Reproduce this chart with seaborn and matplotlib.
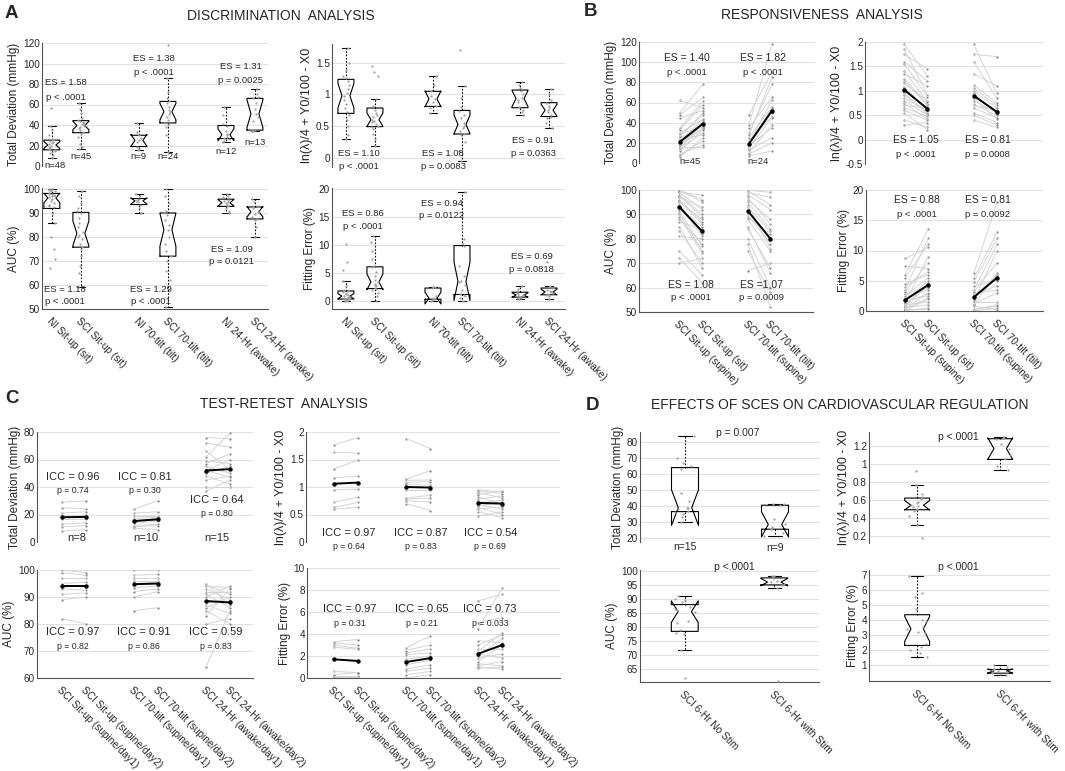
import numpy as np
import pandas as pd
import seaborn as sns
import matplotlib.pyplot as plt
from matplotlib.ticker import FuncFormatter

# ================= labels =================
A_LABELS = ["NI Sit-up (sit)", "SCI Sit-up (sit)", "NI 70-tilt (tilt)",
            "SCI 70-tilt (tilt)", "NI 24-Hr (awake)", "SCI 24-Hr (awake)"]
B_LABELS = ["SCI Sit-up (supine)", "SCI Sit-up (sit)",
            "SCI 70-tilt (supine)", "SCI 70-tilt (tilt)"]
C_LABELS = ["SCI Sit-up (supine/day1)", "SCI Sit-up (supine/day2)",
            "SCI 70-tilt (supine/day1)", "SCI 70-tilt (supine/day2)",
            "SCI 24-Hr (awake/day1)", "SCI 24-Hr (awake/day2)"]
D_LABELS = ["SCI 6-Hr No Stim", "SCI 6-Hr with Stim"]

# ================= A: discrimination (one list per group) =================
A_TD = [
    [8, 11, 13, 14, 15, 16, 17, 18, 19, 20, 21, 22, 23, 24, 25, 26, 30, 35, 39, 57],
    [17, 19, 21, 28, 31, 33, 35, 37, 38, 39, 40, 41, 42, 43, 44, 45, 47, 52, 56, 61],
    [16, 17, 19, 23, 25, 27, 30, 33, 42],
    [14, 30, 38, 40, 42, 45, 48, 51, 53, 55, 58, 61, 63, 66, 72, 86, 118],
    [23, 24, 26, 27, 28, 30, 31, 34, 39, 41, 50, 58],
    [34, 34, 35, 35, 44, 48, 51, 56, 61, 66, 67, 70, 75],
]
A_LN = [
    [0.30, 0.35, 0.50, 0.60, 0.68, 0.72, 0.78, 0.85, 0.92, 0.98, 1.02, 1.08, 1.15, 1.22, 1.26, 1.30, 1.38, 1.50, 1.73],
    [0.19, 0.30, 0.38, 0.45, 0.48, 0.50, 0.53, 0.56, 0.58, 0.60, 0.64, 0.68, 0.71, 0.75, 0.82, 0.93, 1.30, 1.36, 1.45],
    [0.70, 0.78, 0.81, 0.88, 0.93, 0.98, 1.05, 1.15, 1.30],
    [-0.05, 0.10, 0.25, 0.35, 0.38, 0.42, 0.47, 0.50, 0.55, 0.62, 0.68, 0.73, 0.80, 0.95, 1.13, 1.70],
    [0.67, 0.72, 0.76, 0.80, 0.88, 0.92, 0.95, 1.00, 1.06, 1.10, 1.15, 1.20],
    [0.47, 0.55, 0.62, 0.65, 0.68, 0.72, 0.75, 0.78, 0.82, 0.87, 0.92, 1.00, 1.09],
]
A_AUC = [
    [67, 71, 75, 80, 86, 90, 92.5, 93, 93.5, 94, 95, 96, 96.5, 97, 97, 97.5, 98, 98, 98.5, 99, 99, 99.5, 100, 100],
    [59, 65, 68, 72, 75, 76, 77, 79, 80, 81, 82, 84, 86, 88, 90, 91, 92, 94, 97, 99],
    [90, 92, 93.5, 94.5, 95, 95.5, 96, 97, 98],
    [51, 62, 66, 70, 72, 74, 77, 80, 83, 85, 87, 89, 90, 91, 94, 97, 100],
    [90, 91, 92, 93, 93.5, 94, 94.5, 95, 95.5, 96.5, 97, 98],
    [80, 84, 87, 87.5, 88.5, 89.5, 90.5, 91, 92, 92.5, 93, 94.5, 96],
]
A_FE = [
    [0, 0, 0.1, 0.1, 0.2, 0.3, 0.35, 0.4, 0.5, 0.6, 0.7, 0.8, 0.9, 1.0, 1.2, 1.4, 1.6, 1.7, 2.0, 2.6, 3.6, 5.5, 7.0, 10.2],
    [0, 0.8, 1.5, 2.0, 2.1, 2.3, 2.6, 2.9, 3.1, 3.4, 3.8, 4.5, 5.2, 6.0, 6.2, 7.5, 9.0, 10.5, 11.6],
    [0, 0.1, 0.3, 0.4, 0.5, 0.8, 2.3, 2.4, 2.5],
    [0, 0.5, 0.9, 1.0, 1.2, 2.0, 2.8, 3.4, 3.6, 4.5, 6.2, 9.8, 10.2, 11, 13, 19.5],
    [0.3, 0.5, 0.6, 0.7, 0.9, 1.0, 1.1, 1.3, 1.5, 1.7, 2.1, 2.6],
    [0.4, 0.8, 1.0, 1.1, 1.3, 1.5, 1.6, 1.8, 2.0, 2.3, 2.5, 2.6, 7.0],
]

# ================= B: responsiveness (pre, post per subject) =================
B_TD = [
    ([6, 9, 12, 15, 18, 19, 20, 21, 24, 27, 30, 35, 45, 50, 62, 8, 14, 16, 17, 20, 23, 26, 29, 33, 48],
     [25, 18, 33, 30, 39, 35, 37, 41, 39, 48, 43, 61, 52, 78, 55, 22, 40, 16, 34, 44, 28, 50, 36, 58, 65]),
    ([7, 10, 13, 15, 18, 19, 19, 20, 25, 30, 38, 48, 9, 14, 17, 22, 28, 35],
     [12, 38, 25, 45, 50, 53, 51, 62, 56, 78, 118, 90, 20, 55, 35, 46, 85, 65]),
]
B_LN = [
    ([0.30, 0.55, 0.65, 0.75, 0.85, 0.92, 0.98, 1.02, 1.08, 1.15, 1.25, 1.35, 1.55, 1.75, 1.95,
      0.40, 0.60, 0.70, 0.80, 0.95, 1.05, 1.20, 1.40, 1.60, 1.85],
     [0.35, 0.20, 0.48, 0.42, 0.58, 0.52, 0.66, 0.63, 0.60, 0.80, 0.72, 1.10, 0.88, 1.45, 1.30,
      0.25, 0.40, 0.65, 0.50, 0.55, 0.62, 0.70, 0.78, 1.20, 0.92]),
    ([0.40, 0.55, 0.65, 0.72, 0.80, 0.88, 0.92, 1.00, 1.12, 1.35, 1.75, 1.95, 0.50, 0.70, 0.85, 0.95, 1.05, 1.60],
     [0.25, 0.35, 0.45, 0.50, 0.55, 0.56, 0.58, 0.65, 0.75, 1.10, 1.70, 0.95, 0.30, 0.60, 0.42, 0.52, 0.70, 0.85]),
]
B_AUC = [
    ([70, 72, 81, 85, 88, 90, 92, 93, 94, 95, 96, 97, 98, 99, 100, 75, 83, 87, 89, 91, 93.5, 95.5, 97.5, 99, 100],
     [72, 62, 80, 68, 78, 75, 85, 83, 82, 88, 87, 93, 90, 98, 96, 65, 70, 84, 74, 77, 81, 86, 89, 92, 95]),
    ([67, 78, 80, 85, 88, 90, 93, 95, 96, 98, 99, 100, 75, 84, 89, 94, 97, 99.5],
     [70, 52, 60, 66, 75, 78, 83, 84, 88, 92, 97, 99, 58, 68, 82, 76, 86, 94]),
]
B_FE = [
    ([0.0, 0.2, 0.4, 0.7, 1.0, 1.3, 1.6, 1.8, 2.2, 2.8, 3.5, 4.5, 6.0, 7.5, 8.7,
      0.1, 0.3, 0.6, 0.9, 1.4, 2.0, 2.5, 3.2, 4.0, 5.5],
     [2.0, 0.3, 3.0, 4.3, 1.5, 9.0, 2.5, 5.0, 3.5, 4.0, 12.0, 6.0, 13.5, 7.0, 10.5,
      0.5, 2.2, 1.0, 4.6, 2.8, 3.8, 5.5, 8.0, 6.5, 11.0]),
    ([0.0, 0.3, 0.8, 1.2, 1.8, 2.1, 2.5, 2.9, 3.5, 4.2, 5.5, 6.3, 0.2, 1.0, 1.5, 2.7, 3.2, 4.8],
     [0.5, 1.0, 0.2, 3.0, 10.0, 6.0, 6.0, 3.5, 11.0, 5.0, 13.0, 18.0, 0.8, 6.3, 1.5, 4.2, 8.0, 12.0]),
]

# ================= C: test-retest (day1, day2 per subject) =================
C_TD = [
    ([8, 11, 13, 17, 19, 21, 25, 29], [9, 12, 14, 17, 19.5, 22, 24, 30]),
    ([10, 11, 12, 14, 15, 15.5, 17, 19, 21, 24], [9, 12, 13, 15, 16, 17, 18, 19, 22, 30]),
    ([37, 40, 45, 48, 50, 51, 52, 52, 55, 57, 59, 62, 66, 72, 76],
     [45, 40, 48, 42, 55, 53, 47, 60, 50, 64, 57, 79, 53, 69, 75]),
]
C_LN = [
    ([0.60, 0.63, 0.72, 0.95, 1.17, 1.33, 1.63, 1.77], [0.63, 0.72, 0.82, 0.96, 1.20, 1.49, 1.62, 1.90]),
    ([0.70, 0.75, 0.78, 0.80, 0.95, 1.05, 1.08, 1.12, 1.14, 1.88],
     [0.57, 0.73, 0.80, 0.85, 0.95, 1.03, 1.10, 1.13, 1.30, 1.70]),
    ([0.47, 0.55, 0.60, 0.63, 0.66, 0.68, 0.70, 0.71, 0.74, 0.78, 0.82, 0.86, 0.90, 0.93, 0.95],
     [0.55, 0.44, 0.64, 0.50, 0.72, 0.60, 0.69, 0.76, 0.67, 0.84, 0.70, 0.93, 0.80, 0.88, 0.91]),
]
C_AUC = [
    ([82, 89, 91, 93, 95, 97, 99, 100], [80, 90, 91.5, 92.5, 95.5, 97, 98, 99]),
    ([85, 90, 92, 93.5, 94.5, 95, 96, 97, 98, 100], [86, 92, 93, 94, 94.8, 95.2, 96, 97, 98.5, 100]),
    ([64, 80, 83, 85, 86, 87, 88, 88.5, 90, 91, 92, 93, 94, 94.5, 95],
     [85, 82, 93, 80, 90, 84, 88, 87.5, 94, 86, 92, 89, 93.5, 91, 87]),
]
C_FE = [
    ([0.1, 0.2, 0.3, 0.6, 2.8, 3.0, 3.2, 3.3], [0.1, 0.2, 0.5, 0.5, 2.6, 2.7, 3.0, 3.5]),
    ([0, 0.3, 0.6, 0.8, 1.2, 1.7, 2.1, 2.3, 2.5, 2.7], [0.3, 0.6, 0.9, 1.2, 1.6, 2.0, 2.3, 2.6, 3.0, 3.8]),
    ([0.9, 1.0, 1.1, 1.3, 1.5, 1.8, 2.0, 2.2, 2.4, 2.6, 3.0, 3.4, 4.5, 5.0, 7.0],
     [1.0, 0.8, 1.5, 1.1, 3.0, 2.2, 3.6, 1.8, 4.1, 2.6, 3.9, 3.2, 8.2, 5.5, 7.6]),
]

# ================= D: stimulation effects =================
D_TD = [[30, 33, 35, 36, 37, 38, 38.5, 39, 43, 48, 63, 65, 67, 70, 84],
        [21, 23, 25.5, 27, 28.5, 32, 40.5, 41, 41]]
D_LN = [[0.18, 0.32, 0.42, 0.48, 0.50, 0.52, 0.53, 0.54, 0.56, 0.58, 0.61, 0.63, 0.67, 0.77, 0.92],
        [0.93, 0.98, 1.05, 1.10, 1.17, 1.22, 1.28, 1.29, 1.30]]
D_AUC = [[62, 72, 77.5, 78, 79, 81.5, 82, 85.5, 86, 86.5, 87, 89, 89.5, 90, 91],
         [61, 94, 95, 95.5, 96, 96.5, 97.5, 98, 98]]
D_FE = [[1.5, 1.8, 2.0, 2.2, 2.4, 3.1, 3.2, 3.4, 3.5, 3.9, 4.0, 4.7, 5.5, 5.8, 6.9],
        [0.3, 0.4, 0.45, 0.55, 0.6, 0.65, 0.7, 0.85, 1.0]]

POS6 = [0, 1, 3, 4, 6, 7]

# ================= style =================
sns.set_theme(style="white")
plt.rcParams["font.family"] = ["Liberation Sans", "DejaVu Sans"]
np.random.seed(3)  # only for strip jitter

W, H = 1065, 771
fig = plt.figure(figsize=(W / 100, H / 100), dpi=100)
LN_LABEL = "ln(λ)/4 + Y0/100 - X0"


def add_ax(x0, y0, x1, y1):
    return fig.add_axes([x0 / W, 1 - y1 / H, (x1 - x0) / W, (y1 - y0) / H])


def style(ax, xlim, ylim, yticks, ylabel, labels=None, pos=None):
    ax.set_xlim(*xlim)
    ax.set_ylim(*ylim)
    ax.set_yticks(yticks)
    ax.yaxis.set_major_formatter(FuncFormatter(lambda v, p: f"{v:g}"))
    ax.grid(axis="y", color="#e2e2e2", lw=0.8)
    ax.grid(axis="x", visible=False)
    ax.set_axisbelow(True)
    for s in ["top", "right"]:
        ax.spines[s].set_visible(False)
    for s in ["left", "bottom"]:
        ax.spines[s].set_color("#555555")
        ax.spines[s].set_linewidth(0.8)
    ax.tick_params(axis="y", length=0, labelsize=7.2, pad=1.5)
    ax.tick_params(axis="x", length=2, color="#bbbbbb", pad=3)
    ax.set_xlabel("")
    ax.set_ylabel(ylabel, fontsize=9 if ylabel == LN_LABEL else 8.5, labelpad=2)
    if labels is None:
        ax.spines["bottom"].set_visible(False)
        ax.set_xticks([])
    else:
        ax.set_xticks(pos)
        ax.set_xticklabels(labels, rotation=-45, ha="left", rotation_mode="anchor", fontsize=7.3)


def box_panel(ax, groups, pos, width):
    df = pd.DataFrame([(p, v) for p, g in zip(pos, groups) for v in g], columns=["pos", "val"])
    sns.boxplot(data=df, x="pos", y="val", native_scale=True, width=width, notch=True,
                fill=False, color="black", linewidth=0.8, showfliers=False,
                whiskerprops=dict(linestyle=(0, (1.5, 1.5))),
                medianprops=dict(linewidth=0), ax=ax)
    sns.stripplot(data=df, x="pos", y="val", native_scale=True, jitter=0.12, size=1.6,
                  color="#a0a0a0", ax=ax)


def pair_panel(ax, pairs, pos):
    rows = []
    for k, ((a, b), (x0, x1)) in enumerate(zip(pairs, pos)):
        for i, (va, vb) in enumerate(zip(a, b)):
            rows += [(f"c{k}", f"{k}-{i}", x0, va), (f"c{k}", f"{k}-{i}", x1, vb)]
    df = pd.DataFrame(rows, columns=["cond", "subj", "pos", "val"])
    sns.lineplot(data=df, x="pos", y="val", units="subj", estimator=None,
                 color="#d4d4d4", lw=0.7, ax=ax)
    sns.scatterplot(data=df, x="pos", y="val", color="#808080", s=2.5, linewidth=0, ax=ax)
    sns.lineplot(data=df, x="pos", y="val", hue="cond", palette=["black"] * len(pairs),
                 estimator="median", errorbar=None, lw=1.4, marker="o", markersize=3.2,
                 markeredgewidth=0, legend=False, ax=ax)


def note(ax, x, y, s, size=6.8):
    ax.text(x, y, s, ha="center", va="center", fontsize=size, clip_on=False)


# ================= A =================
ax = add_ax(42, 43, 268, 166)
box_panel(ax, A_TD, POS6, 0.55)
style(ax, (-0.34, 7.45), (0, 120), range(0, 121, 20), "Total Deviation (mmHg)")
for x, y, es, p in [(0.5, 81, "ES = 1.58", "p < .0001"), (3.5, 105, "ES = 1.38", "p < .0001"),
                    (6.5, 97, "ES = 1.31", "p = 0.0025")]:
    note(ax, x, y, es); note(ax, x, y - 14, p)
for x, y, s in [(0.1, 0, "n=48"), (1, 9, "n=45"), (3, 9, "n=9"), (4, 9, "n=24"),
                (6, 14, "n=12"), (7, 23, "n=13")]:
    note(ax, x, y, s)

ax = add_ax(332, 44, 565, 167)
box_panel(ax, A_LN, POS6, 0.55)
style(ax, (-0.48, 7.55), (-0.15, 1.8), [0, 0.5, 1, 1.5], LN_LABEL)
for x, y, es, p in [(0.45, 0.06, "ES = 1.10", "p < .0001"), (3.35, 0.06, "ES = 1.08", "p = 0.0083"),
                    (6.45, 0.27, "ES = 0.91", "p = 0.0363")]:
    note(ax, x, y, es); note(ax, x, y - 0.2, p)

ax = add_ax(42, 188, 268, 309)
box_panel(ax, A_AUC, POS6, 0.55)
style(ax, (-0.34, 7.45), (50, 100.4), range(50, 101, 10), "AUC (%)", A_LABELS, POS6)
for x, y, es, p in [(0.45, 58.3, "ES = 1.18", "p < .0001"), (3.4, 58.3, "ES = 1.29", "p < .0001"),
                    (6.2, 74.6, "ES = 1.09", "p = 0.0121")]:
    note(ax, x, y, es); note(ax, x, y - 5, p)

ax = add_ax(332, 188, 565, 309)
box_panel(ax, A_FE, POS6, 0.55)
style(ax, (-0.48, 7.55), (-1.45, 20.2), range(0, 21, 5), "Fitting Error (%)", A_LABELS, POS6)
for x, y, es, p in [(0.6, 15.7, "ES = 0.86", "p < .0001"), (3.3, 17.5, "ES = 0.94", "p = 0.0122"),
                    (6.4, 8.0, "ES = 0.69", "p = 0.0818")]:
    note(ax, x, y, es); note(ax, x, y - 2.3, p)

# ================= B =================
BPOS = [(0, 1), (3, 4)]
ax = add_ax(639, 42, 815, 163)
pair_panel(ax, B_TD, BPOS)
style(ax, (-1.78, 5.87), (0, 120), range(0, 121, 20), "Total Deviation (mmHg)")
for x, es, p in [(0.3, "ES = 1.40", "p < .0001"), (3.6, "ES = 1.82", "p < .0001")]:
    note(ax, x, 104, es, 7.5); note(ax, x, 90, p)
note(ax, 0.43, 1, "n=45"); note(ax, 3.4, 1, "n=24")

ax = add_ax(865, 42, 1043, 164)
pair_panel(ax, B_LN, BPOS)
style(ax, (-1.7, 6.0), (-0.5, 2), [-0.5, 0, 0.5, 1, 1.5, 2], LN_LABEL)
for x, es, p in [(0.5, "ES = 1.05", "p < .0001"), (3.6, "ES = 0.81", "p = 0.0008")]:
    note(ax, x, 0.0, es, 7.5); note(ax, x, -0.3, p)

ax = add_ax(639, 190, 813, 312)
pair_panel(ax, B_AUC, BPOS)
style(ax, (-1.78, 5.87), (50, 100), range(50, 101, 10), "AUC (%)", B_LABELS, [0, 1, 3, 4])
for x, es, p in [(0.5, "ES = 1.08", "p < .0001"), (3.6, "ES =1.07", "p = 0.0009")]:
    note(ax, x, 61, es, 7.5); note(ax, x, 56, p)

ax = add_ax(866, 190, 1043, 311)
pair_panel(ax, B_FE, BPOS)
style(ax, (-1.7, 6.0), (0, 20), range(0, 21, 5), "Fitting Error (%)", B_LABELS, [0, 1, 3, 4])
for x, es, p in [(0.5, "ES = 0.88", "p < .0001"), (3.6, "ES = 0.81", "p = 0.0092")]:
    note(ax, x, 18.3, es, 7.5); note(ax, x, 15.9, p)

# ================= C =================
CPOS = [(0, 1), (3, 4), (6, 7)]
ax = add_ax(37, 432, 253, 542)
pair_panel(ax, C_TD, CPOS)
style(ax, (-1.04, 7.96), (0, 80), range(0, 81, 20), "Total Deviation (mmHg)")
for x, y, icc, p in [(0.46, 47.3, "ICC = 0.96", "p = 0.74"), (3.46, 47.3, "ICC = 0.81", "p = 0.30"),
                     (6.45, 30.5, "ICC = 0.64", "p = 0.80")]:
    note(ax, x, y, icc, 8); note(ax, x, y - 10, p, 6.3)
for x, s in [(0.6, "n=8"), (3.5, "n=10"), (6.45, "n=15")]:
    note(ax, x, 3, s, 8)

ax = add_ax(306, 432, 560, 542)
pair_panel(ax, C_LN, CPOS)
style(ax, (-1.17, 9.4), (0, 2), [0, 0.5, 1, 1.5, 2], LN_LABEL)
for x, icc, p in [(0.6, "ICC = 0.97", "p = 0.64"), (3.6, "ICC = 0.87", "p = 0.83"),
                  (6.5, "ICC = 0.54", "p = 0.69")]:
    note(ax, x, 0.16, icc, 8); note(ax, x, -0.09, p, 6.3)

ax = add_ax(37, 570, 253, 678)
pair_panel(ax, C_AUC, CPOS)
style(ax, (-1.04, 7.96), (60, 100), range(60, 101, 10), "AUC (%)", C_LABELS, [0, 1, 3, 4, 6, 7])
for x, icc, p in [(0.45, "ICC = 0.97", "p = 0.82"), (3.4, "ICC = 0.91", "p = 0.86"),
                  (6.4, "ICC = 0.59", "p = 0.83")]:
    note(ax, x, 77, icc, 8); note(ax, x, 71.5, p, 6.3)

ax = add_ax(307, 568, 560, 678)
pair_panel(ax, C_FE, CPOS)
style(ax, (-1.1, 9.4), (0, 10), range(0, 11, 2), "Fitting Error (%)", C_LABELS, [0, 1, 3, 4, 6, 7])
for x, icc, p in [(0.67, "ICC = 0.97", "p = 0.31"), (3.67, "ICC = 0.65", "p = 0.21"),
                  (6.5, "ICC = 0.73", "p = 0.033")]:
    note(ax, x, 6.3, icc, 8); note(ax, x, 5.0, p, 6.3)

# ================= D =================
ax = add_ax(640, 432, 820, 542)
box_panel(ax, D_TD, [0, 1], 0.3)
style(ax, (-0.5, 1.5), (17.5, 86.25), range(20, 81, 10), "Total Deviation (mmHg)")
note(ax, 0.58, 85.6, "p = 0.007", 7.5)
note(ax, 0, 14.4, "n=15", 7.5); note(ax, 1, 14, "n=9", 7.5)

ax = add_ax(869, 432, 1050, 543)
box_panel(ax, D_LN, [0, 1], 0.3)
style(ax, (-0.58, 1.6), (0.12, 1.355), [0.2, 0.4, 0.6, 0.8, 1, 1.2], LN_LABEL)
note(ax, 0.5, 1.3, "p <.0001", 7.5)

ax = add_ax(640, 570, 819, 682)
box_panel(ax, D_AUC, [0, 1], 0.3)
style(ax, (-0.5, 1.5), (60.5, 100.3), range(65, 101, 5), "AUC (%)", D_LABELS, [0, 1])
note(ax, 0.55, 101.5, "p <.0001", 7.5)

ax = add_ax(869, 570, 1050, 681)
box_panel(ax, D_FE, [0, 1], 0.3)
style(ax, (-0.58, 1.6), (-0.07, 7.33), range(1, 8), "Fitting Error (%)", D_LABELS, [0, 1])
note(ax, 0.5, 7.5, "p <.0001", 7.5)

# ================= titles =================
for x, y, s in [(281, 16, "DISCRIMINATION  ANALYSIS"), (822, 15, "RESPONSIVENESS  ANALYSIS"),
                (284, 404, "TEST-RETEST  ANALYSIS"), (840, 405, "EFFECTS OF SCES ON CARDIOVASCULAR REGULATION")]:
    fig.text(x / W, 1 - y / H, s, ha="center", va="center", fontsize=10)
for x, y, s in [(5, 13, "A"), (584, 12, "B"), (5, 398, "C"), (586, 405, "D")]:
    fig.text(x / W, 1 - y / H, s, ha="left", va="center", fontsize=13.5, fontweight="bold")

fig.savefig("out.png", dpi=100)
